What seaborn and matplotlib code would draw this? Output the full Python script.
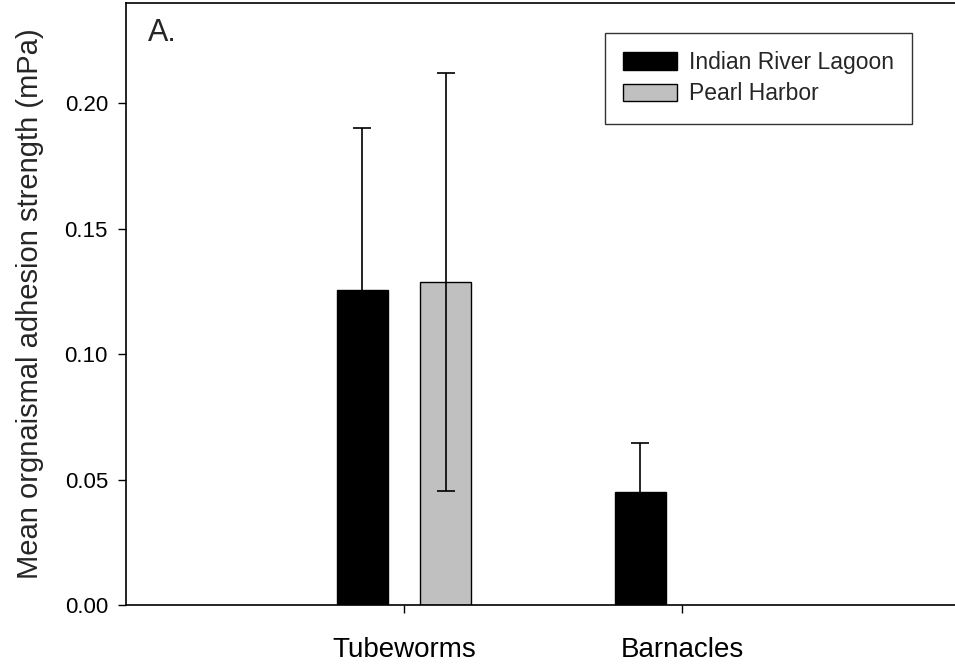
import numpy as np
import pandas as pd
import matplotlib
matplotlib.use("Agg")
import matplotlib.pyplot as plt
import seaborn as sns

categories = ["Tubeworms", "Barnacles"]
sites = ["Indian River Lagoon", "Pearl Harbor"]
irl_means = [0.1255, 0.0450]
irl_errs = [0.0648, 0.0197]
ph_categories = ["Tubeworms"]
ph_means = [0.1287]
ph_errs = [0.0833]
yticks = [0.00, 0.05, 0.10, 0.15, 0.20]
colors = ["#000000", "#c0c0c0"]

df = pd.DataFrame({
    "organism": categories + ph_categories,
    "site": [sites[0]] * len(categories) + [sites[1]] * len(ph_categories),
    "mean": irl_means + ph_means,
    "err": irl_errs + ph_errs,
})

sns.set_theme(style="ticks")
plt.rcParams["font.family"] = ["Liberation Sans", "DejaVu Sans"]

fig = plt.figure(figsize=(9.55, 6.67), dpi=100)
ax = fig.add_axes([126 / 955, 62 / 667, 829 / 955, 602 / 667])

sns.barplot(data=df, x="organism", y="mean", hue="site", order=categories,
            hue_order=sites, palette=colors, width=0.6, gap=0.387,
            errorbar=None, edgecolor="black", linewidth=1, saturation=1, ax=ax)

for container, site in zip(ax.containers, sites):
    sub = df[df.site == site].set_index("organism")
    for bar in container:
        cx = bar.get_x() + bar.get_width() / 2
        cat = categories[int(round(cx))]
        ax.errorbar(cx, sub.loc[cat, "mean"], yerr=sub.loc[cat, "err"], fmt="none",
                    ecolor="black", elinewidth=1.2, capsize=6.5, capthick=1.2, zorder=3)

ax.set_xlim(-1, -1 + 829 / 278)
ax.set_ylim(0, 0.24)
ax.set_yticks(yticks)
ax.set_yticklabels([f"{v:.2f}" for v in yticks], fontsize=16)
ax.set_xticks(range(len(categories)))
ax.set_xticklabels(categories, fontsize=20)
ax.set_xlabel("")
ax.set_ylabel("Mean orgnaismal adhesion strength (mPa)", fontsize=21, labelpad=15)

ax.spines["right"].set_visible(False)
for s in ["top", "left", "bottom"]:
    ax.spines[s].set_linewidth(1.2)
    ax.spines[s].set_color("black")
ax.tick_params(axis="both", direction="out", length=6, width=1, color="black", labelcolor="black")
ax.tick_params(axis="y", pad=7)
ax.tick_params(axis="x", pad=17)
ax.set_facecolor("white")

handles, labels = ax.get_legend_handles_labels()
leg = ax.legend(handles, labels, loc="upper right", bbox_to_anchor=(0.948, 0.950),
                frameon=True, fancybox=False, edgecolor="black", fontsize=16.5,
                handlelength=2.36, handleheight=0.83, handletextpad=0.5,
                borderpad=0.8, labelspacing=0.35, borderaxespad=0)
leg.get_frame().set_linewidth(1)
for h in leg.legend_handles:
    h.set_edgecolor("black")
    h.set_linewidth(1)

ax.text(0.0265, 0.937, "A.", transform=ax.transAxes, fontsize=22, va="baseline", ha="left")

fig.savefig("out.png", dpi=100, facecolor="white")
